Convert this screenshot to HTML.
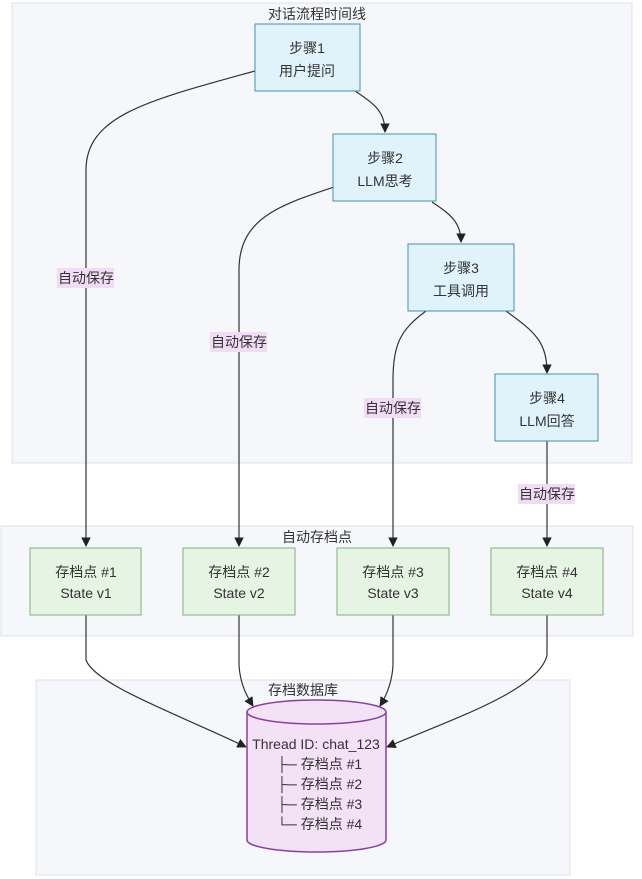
<!DOCTYPE html>
<html><head><meta charset="utf-8"><style>
html,body{margin:0;padding:0;background:#fff;}
svg{display:block;}
text{font-family:"Liberation Sans","Noto Sans CJK SC",sans-serif;font-size:14px;fill:#333;}
</style></head><body>
<svg width="642" height="879" viewBox="0 0 642 879" xmlns="http://www.w3.org/2000/svg">
<defs><marker id="a" viewBox="0 0 10 10" refX="9" refY="5" markerWidth="8" markerHeight="8" orient="auto"><path d="M0,0 L10,5 L0,10 z" fill="#222"/></marker></defs>
<rect x="12" y="3" width="620" height="460" fill="#f5f7fb" stroke="#dde1ea"/>
<rect x="1" y="526" width="632" height="110" fill="#f5f7fb" stroke="#dde1ea"/>
<rect x="36" y="680" width="534" height="195" fill="#f5f7fb" stroke="#dde1ea"/>
<text x="317" y="19" text-anchor="middle">对话流程时间线</text>
<text x="317" y="542" text-anchor="middle">自动存档点</text>
<text x="303" y="695" text-anchor="middle">存档数据库</text>
<g fill="none" stroke="#333" stroke-width="1.2">
<path d="M255,71 C150,100 86,115 86,170 L86,546" marker-end="url(#a)"/>
<path d="M355,91 C375,104 385,112 385,132" marker-end="url(#a)"/>
<path d="M334,187 C280,205 239,218 239,270 L239,546" marker-end="url(#a)"/>
<path d="M432,202 C450,214 461,222 461,242" marker-end="url(#a)"/>
<path d="M426,311 C400,330 393,345 393,380 L393,546" marker-end="url(#a)"/>
<path d="M506,311 C535,332 547,342 547,373" marker-end="url(#a)"/>
<path d="M547,441 L547,546" marker-end="url(#a)"/>
<path d="M86,615 L86,660 C95,685 180,715 246,747" marker-end="url(#a)"/>
<path d="M239,615 L239,665 C240,685 248,698 253,706" marker-end="url(#a)"/>
<path d="M393,615 L393,665 C392,685 385,698 380,706" marker-end="url(#a)"/>
<path d="M547,615 L547,655 C540,690 450,720 387,747" marker-end="url(#a)"/>
</g>
<g fill="#e0f3fb" stroke="#3f93b4" stroke-width="1">
<rect x="255" y="24" width="105" height="67"/>
<rect x="333" y="134" width="103" height="67"/>
<rect x="408" y="244" width="106" height="67"/>
<rect x="495" y="374" width="103" height="67"/>
</g>
<g text-anchor="middle">
<text x="307" y="53">步骤1</text><text x="307" y="76">用户提问</text>
<text x="385" y="163">步骤2</text><text x="385" y="186">LLM思考</text>
<text x="461" y="273">步骤3</text><text x="461" y="296">工具调用</text>
<text x="547" y="403">步骤4</text><text x="547" y="426">LLM回答</text>
</g>
<g fill="#f0dcf3">
<rect x="57" y="268" width="57" height="20"/>
<rect x="210" y="332" width="57" height="20"/>
<rect x="364" y="398" width="57" height="20"/>
<rect x="518" y="484" width="57" height="20"/>
</g>
<g text-anchor="middle">
<text x="86" y="283">自动保存</text>
<text x="239" y="347">自动保存</text>
<text x="393" y="413">自动保存</text>
<text x="547" y="499">自动保存</text>
</g>
<g fill="#e6f4e3" stroke="#7fb27a" stroke-width="1">
<rect x="30" y="548" width="111" height="67"/>
<rect x="183" y="548" width="112" height="67"/>
<rect x="337" y="548" width="112" height="67"/>
<rect x="491" y="548" width="112" height="67"/>
</g>
<g text-anchor="middle">
<text x="86" y="577">存档点 #1</text><text x="86" y="598">State v1</text>
<text x="239" y="577">存档点 #2</text><text x="239" y="598">State v2</text>
<text x="393" y="577">存档点 #3</text><text x="393" y="598">State v3</text>
<text x="547" y="577">存档点 #4</text><text x="547" y="598">State v4</text>
</g>
<path d="M247,712 L247,840 A69.5,12 0 0 0 386,840 L386,712" fill="#f3e1f5" stroke="#8a3fa8" stroke-width="1.5"/>
<ellipse cx="316.5" cy="712" rx="69.5" ry="12" fill="#f3e1f5" stroke="#8a3fa8" stroke-width="1.5"/>
<text x="316" y="749" text-anchor="middle">Thread ID: chat_123</text>
<text x="277" y="769">├─ 存档点 #1</text>
<text x="277" y="789">├─ 存档点 #2</text>
<text x="277" y="809">├─ 存档点 #3</text>
<text x="277" y="829">└─ 存档点 #4</text>
</svg>
</body></html>
